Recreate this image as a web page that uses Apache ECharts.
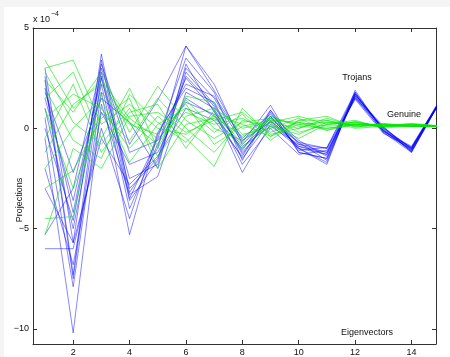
<!DOCTYPE html>
<html>
<head>
<meta charset="utf-8">
<script src="https://cdn.jsdelivr.net/npm/echarts@6.0.0/dist/echarts.min.js"></script>
<style>
  html, body { margin: 0; padding: 0; background: #fff; }
  #chart { width: 450px; height: 357px; }
</style>
</head>
<body>
<div id="chart"></div>
<script>
// eigenvector index 1..15
const eigenIndex = [1, 2, 3, 4, 5, 6, 7, 8, 9, 10, 11, 12, 13, 14, 15];
const xTicks = [2, 4, 6, 8, 10, 12, 14];
const yTicks = [-10, -5, 0, 5];

// projections in units of 1e-4
const trojans = [
  [3.0, -5.7, 3.7, -3.2, -1.0, 4.1, 2.2, -0.8, 0.6, -1.0, -1.3, 1.8, -0.1, -1.1, 1.3],
  [2.6, -7.3, 3.4, -3.5, -0.5, 3.5, 1.8, -1.6, 0.9, -0.8, -1.0, 1.7, 0.0, -1.0, 1.35],
  [2.0, -4.2, 2.8, -3.0, -1.5, 3.0, 1.5, -0.7, 1.15, -1.2, -1.5, 1.6, -0.2, -1.2, 1.3],
  [1.5, -3.6, 2.5, -2.5, -1.8, 2.8, 1.2, -1.2, 0.4, -0.9, -1.2, 1.5, 0.05, -1.05, 1.3],
  [1.0, -5.0, 2.2, -4.0, -0.8, 2.5, 0.9, -2.2, 0.2, -1.0, -1.8, 1.9, -0.15, -0.95, 1.4],
  [0.5, -7.9, 1.8, -5.3, -0.3, 2.2, 1.6, -0.5, 0.7, -0.6, -1.4, 1.7, -0.05, -1.15, 1.3],
  [-0.5, -10.2, 1.2, -3.3, -2.4, 1.8, 1.0, -1.8, 0.0, -1.3, -1.1, 1.45, -0.25, -1.0, 1.35],
  [-2.0, -6.8, 0.8, -1.8, -1.2, 1.5, 0.6, -1.0, 0.5, -0.7, -1.6, 1.65, 0.1, -1.2, 1.3],
  [-3.0, -5.7, -0.5, -2.8, -1.4, 1.0, 0.4, -1.4, 0.8, -1.1, -0.95, 1.8, -0.1, -0.9, 1.35],
  [-5.3, -3.0, 3.2, -0.8, 1.4, 4.1, 1.9, -0.6, 0.3, -0.9, -1.3, 1.55, 0.0, -1.1, 1.3],
  [-6.0, -6.0, 0.0, -4.5, -0.2, 2.0, 1.3, -1.3, 0.6, -1.0, -1.7, 1.75, -0.2, -1.05, 1.4],
  [1.8, -2.2, 1.5, 0.3, -2.0, 3.2, 0.8, -0.9, 0.1, -0.8, -1.2, 1.6, 0.05, -1.0, 1.3],
  [2.4, -7.5, 2.6, -3.6, -1.6, 2.6, 1.1, -1.1, 0.9, -1.2, -1.5, 1.7, -0.1, -1.15, 1.35],
  [0.0, -4.6, 3.0, -1.2, -0.6, 1.3, 0.7, -1.5, 0.35, -0.7, -1.0, 1.5, -0.15, -0.95, 1.3],
];

const genuine = [
  [3.4, 1.0, 2.4, 0.5, -0.5, 0.8, 0.2, 0.5, -0.2, 0.3, 0.1, 0.2, 0.15, 0.1, 0.1],
  [3.0, 3.4, 0.2, 1.2, 0.0, -0.3, 0.6, -0.4, 0.3, 0.0, 0.4, 0.1, 0.2, 0.15, 0.1],
  [2.4, 0.8, 2.8, -0.2, 2.1, 0.4, -0.5, 0.3, 0.5, -0.2, 0.2, 0.3, 0.1, 0.2, 0.1],
  [1.5, 2.8, -0.5, 2.0, -1.0, 1.6, 1.3, -0.3, 0.0, 0.5, -0.1, 0.35, 0.05, 0.2, 0.12],
  [0.5, 1.7, 1.0, -1.0, 0.6, -0.5, -1.9, 1.0, -0.4, 0.2, 0.3, 0.15, 0.2, 0.1, 0.1],
  [-0.5, 2.2, -1.2, 0.8, 1.2, -1.0, 0.9, -0.8, 0.6, 0.1, 0.0, 0.2, 0.1, 0.25, 0.12],
  [-2.0, 0.0, 1.5, -1.7, 0.2, 1.0, -0.2, 0.7, -0.6, 0.4, 0.6, 0.05, 0.25, 0.1, 0.1],
  [-3.0, -2.1, 0.5, 1.5, -2.0, 0.2, 0.5, -1.0, 0.2, -0.5, 0.2, 0.4, 0.0, 0.15, 0.1],
  [-4.5, -4.4, 1.8, 0.2, -0.3, 1.2, -0.8, 0.1, 0.4, 0.3, -0.1, 0.2, 0.2, 0.1, 0.1],
  [-5.3, -1.0, -2.0, 0.6, 0.8, -0.2, 0.4, 0.8, -0.3, 0.0, 0.5, 0.1, 0.1, 0.2, 0.12],
  [2.8, 0.3, -0.8, 1.0, -1.4, 0.6, 1.0, 0.0, 0.3, 0.6, 0.2, 0.25, 0.15, 0.1, 0.1],
  [1.0, -3.0, 0.8, -0.6, 1.5, 0.0, -1.2, 0.4, 0.1, -0.3, 0.3, 0.3, 0.1, 0.15, 0.1],
  [-1.2, 1.2, 2.2, 0.3, -0.8, 1.4, 0.0, -0.6, 0.5, 0.2, 0.0, 0.15, 0.2, 0.2, 0.12],
  [2.0, -0.6, -1.5, 1.7, 0.3, -0.7, 0.7, 0.2, -0.4, 0.4, 0.4, 0.0, 0.1, 0.1, 0.1],
];

const FONT = "Liberation Sans, Arial, Helvetica, sans-serif";
const X_MIN = 0.575;
const X_MAX = 14.87;
const Y_MIN = -10.75;
const Y_MAX = 5;

function toPairs(values) {
  return values.map((v, i) => [eigenIndex[i], v]);
}

function makeLine(values, color, opacity) {
  return {
    type: "line",
    data: toPairs(values),
    showSymbol: false,
    symbol: "none",
    silent: true,
    clip: true,
    lineStyle: { color: color, width: 0.8, opacity: opacity },
  };
}

function formatMinus(value) {
  return String(value).replace("-", "\u2212");
}

function axisX(position, showLabels) {
  return {
    type: "value",
    position: position,
    min: X_MIN,
    max: X_MAX,
    splitLine: { show: false },
    axisLine: { show: true, onZero: false, lineStyle: { color: "#333", width: 1 } },
    axisTick: { show: true, inside: true, length: 4, customValues: xTicks, lineStyle: { color: "#333" } },
    axisLabel: {
      show: showLabels,
      customValues: xTicks,
      margin: 4,
      fontFamily: FONT,
      fontSize: 9,
      color: "#111",
    },
  };
}

function axisY(position, showLabels) {
  return {
    type: "value",
    position: position,
    min: Y_MIN,
    max: Y_MAX,
    splitLine: { show: false },
    axisLine: { show: true, onZero: false, lineStyle: { color: "#333", width: 1 } },
    axisTick: { show: true, inside: true, length: 4, customValues: yTicks, lineStyle: { color: "#333" } },
    axisLabel: {
      show: showLabels,
      customValues: yTicks,
      margin: 4,
      fontFamily: FONT,
      fontSize: 9,
      color: "#111",
      formatter: formatMinus,
    },
  };
}

const chart = echarts.init(document.getElementById("chart"), null, { renderer: "canvas" });

const series = [];
trojans.forEach((row) => series.push(makeLine(row, "#0000ff", 0.6)));
genuine.forEach((row) => series.push(makeLine(row, "#00e600", 0.75)));

chart.setOption({
  animation: false,
  backgroundColor: "#ffffff",
  grid: { left: 33, top: 28, width: 403, height: 317 },
  xAxis: [axisX("bottom", true), axisX("top", false)],
  yAxis: [axisY("left", true), axisY("right", false)],
  series: series,
  graphic: [
    { type: "rect", left: 0, top: 0, shape: { width: 450, height: 7 }, style: { fill: "#f4f4f4" }, silent: true, z: -10 },
    { type: "rect", left: 0, top: 0, shape: { width: 4, height: 357 }, style: { fill: "#f4f4f4" }, silent: true, z: -10 },
    {
      type: "text",
      left: 33,
      top: 11,
      style: {
        text: "{b|x 10}{s|\u22124}",
        rich: {
          b: { fontFamily: FONT, fontSize: 9, fill: "#111", verticalAlign: "bottom" },
          s: { fontFamily: FONT, fontSize: 7, fill: "#111", verticalAlign: "top", padding: [0, 0, 6, 1] },
        },
      },
    },
    {
      type: "text",
      x: 20,
      y: 200,
      rotation: Math.PI / 2,
      style: { text: "Projections", fontFamily: FONT, fontSize: 9, fill: "#111", align: "center", verticalAlign: "middle" },
    },
    {
      type: "text",
      x: 357,
      y: 78,
      style: { text: "Trojans", fontFamily: FONT, fontSize: 9, fill: "#111", align: "center", verticalAlign: "middle" },
    },
    {
      type: "text",
      x: 404,
      y: 115,
      style: { text: "Genuine", fontFamily: FONT, fontSize: 9, fill: "#111", align: "center", verticalAlign: "middle" },
    },
    {
      type: "text",
      x: 367,
      y: 333,
      style: { text: "Eigenvectors", fontFamily: FONT, fontSize: 9, fill: "#111", align: "center", verticalAlign: "middle" },
    },
  ],
});
</script>
</body>
</html>
